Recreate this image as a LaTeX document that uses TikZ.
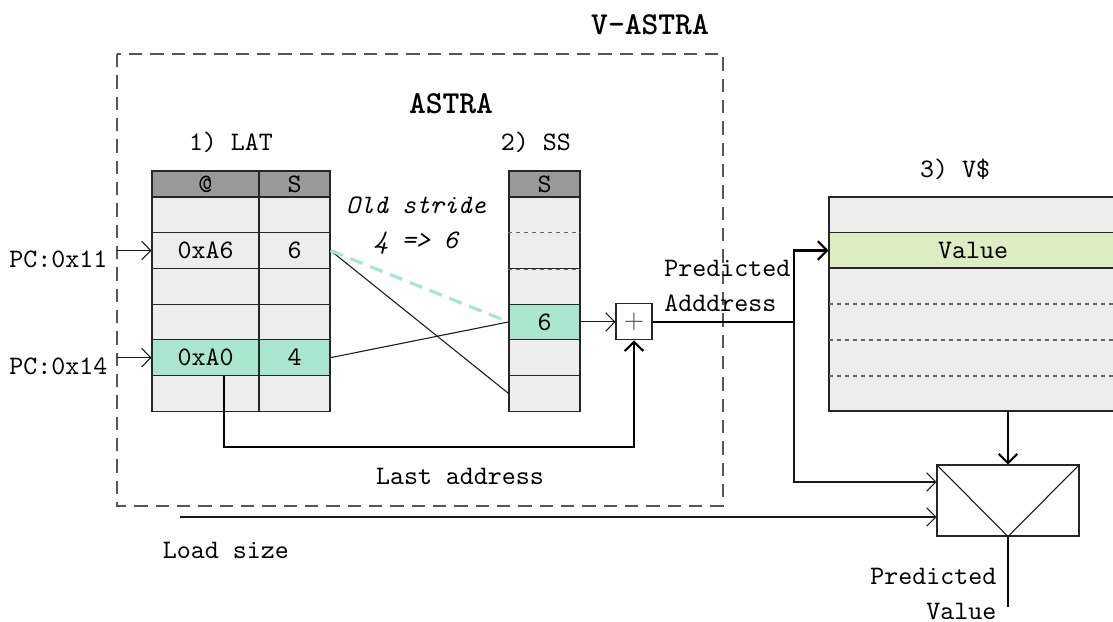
\documentclass[tikz,border=0pt]{standalone}
\usetikzlibrary{arrows.meta}
\newlength\pxu
\setlength\pxu{0.375pt}
\definecolor{cellgray}{HTML}{EDEDED}
\definecolor{headgray}{HTML}{999999}
\definecolor{mint}{HTML}{A8E6CF}
\definecolor{valgreen}{HTML}{DCEDC1}
\definecolor{framegray}{HTML}{555555}
\begin{document}
\begin{tikzpicture}[x=0.375pt,y=-0.375pt,
  >={Straight Barb[length=3.4pt,width=7pt]},
  every node/.style={font=\fontsize{10}{13.2}\selectfont\ttfamily},
  cell/.style={draw=black!85, fill=cellgray, inner sep=0pt, minimum height=35.7\pxu},
  headcell/.style={cell, fill=headgray, minimum height=26\pxu},
  hotcell/.style={cell, fill=mint},
  colA/.style={minimum width=107\pxu},
  colS/.style={minimum width=71\pxu},
  colV/.style={minimum width=288\pxu},
  rowsep/.style={draw=black!60, dash pattern=on 1.5pt off 1.5pt},
  frame/.style={draw=framegray, dash pattern=on 5pt off 3pt},
  title/.style={font=\fontsize{12}{14}\selectfont\ttfamily\bfseries},
  wire/.style={draw=black!90},
  bus/.style={draw=black, thick}
]
\useasboundingbox (0,0) rectangle (1113,622);

% outer V-ASTRA frame and titles
\draw[frame] (117,54) rectangle (723,506);
\node[title] (vastra) at (650,25) {V-ASTRA};
\node[title] (astra) at (451,104) {ASTRA};
\node (latlabel) at (231,142) {1) LAT};
\node (sslabel) at (536,142) {2) SS};
\node (vlabel) at (955,169) {3) V\$};

% 1) LAT table
\node[headcell,colA] (lat-a-0) at (205.5,184) {@};
\node[headcell,colS] (lat-s-0) at (294.5,184) {S};
\node[cell,colA] (lat-a-1) at (205.5,214.85) {};
\node[cell,colS] (lat-s-1) at (294.5,214.85) {};
\node[cell,colA] (lat-a-2) at (205.5,250.55) {0xA6};
\node[cell,colS] (lat-s-2) at (294.5,250.55) {6};
\node[cell,colA] (lat-a-3) at (205.5,286.25) {};
\node[cell,colS] (lat-s-3) at (294.5,286.25) {};
\node[cell,colA] (lat-a-4) at (205.5,321.95) {};
\node[cell,colS] (lat-s-4) at (294.5,321.95) {};
\node[hotcell,colA] (lat-a-5) at (205.5,357.65) {0xA0};
\node[hotcell,colS] (lat-s-5) at (294.5,357.65) {4};
\node[cell,colA] (lat-a-6) at (205.5,393.35) {};
\node[cell,colS] (lat-s-6) at (294.5,393.35) {};

% 2) SS table
\node[headcell,colS] (ss-0) at (544.5,184) {S};
\node[cell,colS,minimum height=71.4\pxu] (ss-12) at (544.5,232.7) {};
\draw[rowsep] (ss-12.west) -- (ss-12.east);
\node[cell,colS] (ss-3) at (544.5,286.25) {};
\draw[rowsep] ([yshift=-1.5\pxu]ss-3.north west) -- ([yshift=-1.5\pxu]ss-3.north east);
\node[hotcell,colS] (ss-4) at (544.5,321.95) {6};
\node[cell,colS] (ss-5) at (544.5,357.65) {};
\node[cell,colS] (ss-6) at (544.5,393.35) {};

% 3) V$ table
\node[cell,colV,minimum height=36\pxu] (v-1) at (973,215) {};
\node[cell,colV,fill=valgreen,minimum height=35.5\pxu] (v-2) at (973,250.5) {Value};
\node[cell,colV,minimum height=143\pxu] (v-3) at (973,339.5) {};
\draw[rowsep] (829,304) -- (1117,304);
\draw[rowsep] (829,340) -- (1117,340);
\draw[rowsep] (829,376) -- (1117,376);

% adder and output selector
\node[draw=black!85, fill=white, minimum size=36\pxu, inner sep=0pt, text=black!70] (plus) at (634,321.95) {$+$};
\node[draw=black!85, minimum width=142\pxu, minimum height=71\pxu, inner sep=0pt] (mux) at (1008,500.5) {};
\draw[wire] (mux.north west) -- (mux.south) -- (mux.north east);

% program counter inputs
\node[anchor=east, inner sep=0pt] (pc1) at (108,259) {PC:0x11};
\node[anchor=east, inner sep=0pt] (pc2) at (108,366) {PC:0x14};
\coordinate (pc1in) at (117,250.55);
\coordinate (pc2in) at (117,357.65);
\draw[wire,->] (pc1in) -- (lat-a-2.west);
\draw[wire,->] (pc2in) -- (lat-a-5.west);

% stride updates
\draw[wire] (lat-s-2.east) -- (ss-6.west);
\draw[wire] (lat-s-5.east) -- (ss-4.west);
\draw[mint, line width=1.2pt, dash pattern=on 5pt off 3pt] (lat-s-2.east) -- (ss-4.west);
\node[font=\fontsize{10}{13.2}\selectfont\ttfamily\itshape, align=center] (oldstride) at (416,226) {Old stride\\4 => 6};

% address computation
\draw[wire,->] (ss-4.east) -- (plus.west);
\coordinate (lastturn) at (224,447);
\draw[bus,->] ([xshift=18.5\pxu]lat-a-5.south) -- (lastturn) -| (plus.south);
\node (lastaddr) at (460,476) {Last address};

\coordinate (split) at (794,321.95);
\draw[bus,->] (plus.east) -- (split) |- (v-2.west);
\node[anchor=west, align=left] (predaddr) at (655,286) {Predicted\\Adddress};
\draw[wire,->] (split) |- ([yshift=18.5\pxu]mux.west);

% load size input
\coordinate (loadin) at (180,517);
\draw[wire,->] (loadin) -- ([yshift=-16.5\pxu]mux.west);
\node (loadsize) at (226,550) {Load size};

% value read-out
\draw[bus,->] (mux.north |- v-3.south) -- (mux.north);
\coordinate (pvout) at (1008,607);
\draw[bus] (mux.south) -- (pvout);
\node[anchor=east, align=right, inner sep=0pt] (predval) at (997,594) {Predicted\\Value};
\end{tikzpicture}
\end{document}
